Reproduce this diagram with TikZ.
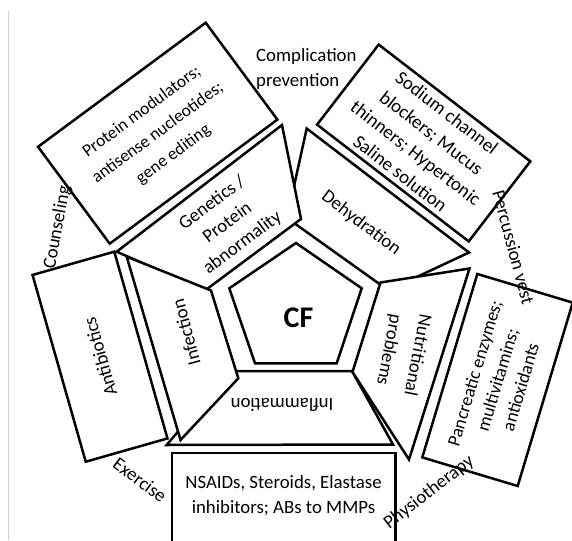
\documentclass[tikz,border=0pt]{standalone}
\usepackage{fontspec}
\setmainfont{Carlito}
\tikzset{
  cfbox/.style={draw, line width=2.5pt, fill=white, inner sep=0pt, align=center},
  seg/.style={draw, line width=2.5pt, fill=white, line join=miter},
  txt/.style={font=\fontsize{18.8}{25}\selectfont, align=center, inner sep=0pt},
}
\begin{document}
\begin{tikzpicture}[x=1pt,y=-1pt]
  \useasboundingbox (0,0) rectangle (572,540);
  \clip (0,0) rectangle (572,540);
  % page edge
  \draw[black!18, line width=0.8pt] (8.3,11) -- (8.3,540);

  % Ring of causes
  \draw[seg] (306.7,128.5) -- (469,252.5) -- (388.3,290.3) -- (287,218) -- cycle;
  \draw[seg] (229,371) -- (352,371) -- (393,444.5) -- (166.7,445) -- cycle;
  \draw[seg] (116.7,251.7) -- (282,125) -- (301,219) -- (205,290.5) -- cycle;
  \draw[seg] (380.5,282.5) -- (469.5,268.5) -- (409,459.5) -- (352.5,372) -- cycle;
  \draw[seg] (126.7,256.7) -- (211,290.5) -- (238.3,378.3) -- (180.5,440) -- cycle;
  \node[txt, rotate=37] (genetics) at (227.5,223) {Genetics /\\Protein\\abnormality};
  \node[txt, rotate=-37] (dehyd) at (361,223) {Dehydration};
  \node[txt, font=\fontsize{18.8}{29}\selectfont, rotate=-101] (nutri) at (403,352.5) {Nutritional\\problems};
  \node[txt, rotate=180] (inflam) at (282,405) {Inflammation};
  \node[txt, rotate=105] (infect) at (186,332.5) {Infection};

  % Centre
  \draw[seg] (296,243) -- (361.7,288.3) -- (336.7,363.3) -- (255,363.3) -- (229.3,288.3) -- cycle;
  \node[font=\fontsize{30}{30}\selectfont\bfseries] (cf) at (298.5,318) {CF};

  % Therapies
  \node[cfbox, txt, font=\fontsize{17.5}{26.5}\selectfont, minimum width=208.6pt, minimum height=120.5pt, rotate=36.5] (modbox) at (157.7,133.2) {Protein modulators;\\antisense nucleotides;\\gene editing};
  \node[cfbox, txt, font=\fontsize{19}{25.5}\selectfont, minimum width=191.4pt, minimum height=101pt, rotate=-37.6] (sodbox) at (423.7,143) {Sodium channel\\blockers; Mucus\\thinners; Hypertonic\\Saline solution};
  \node[cfbox, txt, font=\fontsize{18.3}{24}\selectfont, minimum width=191.5pt, minimum height=99.6pt, rotate=73.3] (pancbox) at (497.5,380) {Pancreatic enzymes;\\multivitamins;\\antioxidants};
  \node[cfbox, txt, minimum width=194.2pt, minimum height=85pt, rotate=105.9] (abbox) at (100,356.7) {Antibiotics};
  \node[cfbox, minimum width=223.5pt, minimum height=93pt] (nsbox) at (283.5,499.5) {};
  \node[txt] (nstext) at (283.5,496) {NSAIDs, Steroids, Elastase\\inhibitors; ABs to MMPs};

  % Care around the circle
  \node[txt, align=left, anchor=north west] (compl) at (256,48.5) {Complication\\prevention};
  \foreach \nm/\x/\y/\ang/\t in {perc/513.5/247.5/-75/Percussion vest, physio/429/492.5/37.7/Physiotherapy, exer/140/480/-36.9/Exercise, couns/57.5/227.5/79.6/Counseling}
    \node[txt, rotate=\ang] (\nm) at (\x,\y) {\t};
\end{tikzpicture}
\end{document}
